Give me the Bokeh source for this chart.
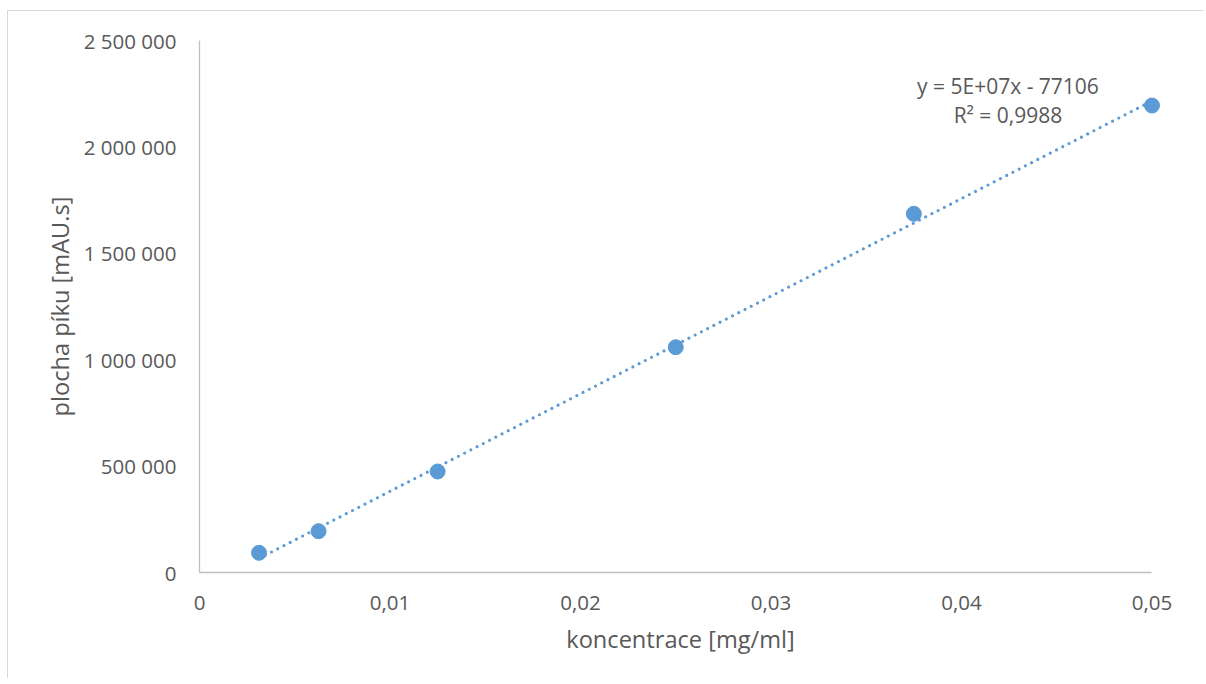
import numpy as np
from bokeh.plotting import figure
from bokeh.models import FixedTicker, CustomJSTickFormatter, Label, Range1d
from bokeh.embed import file_html
from bokeh.resources import INLINE

# ---- data ----
koncentrace = [0.003125, 0.00625, 0.0125, 0.025, 0.0375, 0.05]
plocha = [92600, 194100, 474600, 1058700, 1685600, 2194500]
x_ticks = [0, 0.01, 0.02, 0.03, 0.04, 0.05]
y_ticks = [0, 500000, 1000000, 1500000, 2000000, 2500000]
eq_line1 = "y = 5E+07x - 77106"
eq_line2 = "R² = 0,9988"
x_title = "koncentrace [mg/ml]"
y_title = "plocha píku [mAU.s]"

BLUE = "#5B9BD5"
TXT = "#595959"
AX = "#BFBFBF"
FONT = "Open Sans"

p = figure(width=1197, height=668, output_backend="svg", toolbar_location=None,
           x_range=Range1d(0, 0.0505), y_range=Range1d(0, 2500000),
           min_border_left=191, min_border_right=44, min_border_top=29,
           min_border_bottom=107)
p.styles = {"border-top": "1px solid #d9d9d9", "border-left": "1px solid #d9d9d9",
            "margin-top": "10px", "margin-left": "7px"}
p.outline_line_color = None
p.grid.visible = False
p.background_fill_color = "white"
p.border_fill_color = "white"

# trendline (least squares from the data)
slope, intercept = np.polyfit(koncentrace, plocha, 1)
tx = [min(koncentrace), max(koncentrace)]
ty = [slope * v + intercept for v in tx]
p.line(tx, ty, line_color=BLUE, line_width=3.2, line_dash="0 7", line_cap="round")

p.scatter(koncentrace, plocha, size=15, fill_color=BLUE, line_color=BLUE)

for ax in (p.xaxis[0], p.yaxis[0]):
    ax.axis_line_color = AX
    ax.axis_line_width = 1.3
    ax.major_tick_line_color = None
    ax.minor_tick_line_color = None
    ax.major_label_text_color = TXT
    ax.major_label_text_font = FONT
    ax.major_label_text_font_size = "20.5px"
    ax.axis_label_text_color = TXT
    ax.axis_label_text_font = FONT
    ax.axis_label_text_font_size = "23.6px"
    ax.axis_label_text_font_style = "normal"

p.xaxis.bounds = (0, 0.05)
p.xaxis.ticker = FixedTicker(ticks=x_ticks)
p.yaxis.ticker = FixedTicker(ticks=y_ticks)
p.xaxis.formatter = CustomJSTickFormatter(code="""
    if (Math.abs(tick) < 1e-12) return "0";
    return tick.toFixed(2).replace('.', ',');
""")
p.yaxis.formatter = CustomJSTickFormatter(code="""
    return Math.round(tick).toString().replace(/\\B(?=(\\d{3})+(?!\\d))/g, ' ');
""")
p.xaxis.major_label_standoff = 17
p.yaxis.major_label_standoff = 17
p.xaxis.axis_label = x_title
p.yaxis.axis_label = y_title
p.xaxis.axis_label_standoff = 10
p.yaxis.axis_label_standoff = 5

eq_x = 0.04244
for txt, yy in ((eq_line1, 2288500), (eq_line2, 2147600)):
    p.add_layout(Label(x=eq_x, y=yy, text=txt, text_align="center", text_baseline="middle",
                       text_color=TXT, text_font=FONT, text_font_size="21px"))

open("out.html", "w").write(file_html(p, INLINE))
